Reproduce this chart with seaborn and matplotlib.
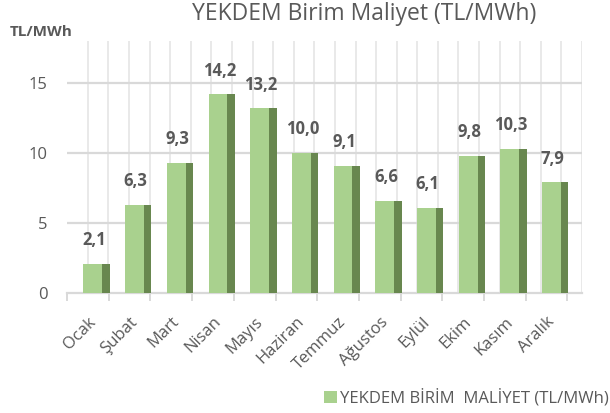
import matplotlib
matplotlib.use("Agg")
import matplotlib.pyplot as plt
import seaborn as sns
import numpy as np
import pandas as pd
from matplotlib.patches import Rectangle, Patch

months = ["Ocak", "Şubat", "Mart", "Nisan", "Mayıs", "Haziran", "Temmuz",
          "Ağustos", "Eylül", "Ekim", "Kasım", "Aralık"]
values = [2.1, 6.3, 9.3, 14.2, 13.2, 10.0, 9.1, 6.6, 6.1, 9.8, 10.3, 7.9]
yticks = [0, 5, 10, 15]
title = "YEKDEM Birim Maliyet (TL/MWh)"
ylabel = "TL/MWh"
legend_label = "YEKDEM BİRİM  MALİYET (TL/MWh)"

FRONT = "#a9d18e"
SIDE = "#68874f"
TXT = "#595959"

sns.set_theme(style="white")
plt.rcParams["font.family"] = ["Open Sans", "DejaVu Sans"]

df = pd.DataFrame({"month": months, "value": values})

fig = plt.figure(figsize=(6.1, 4.13), dpi=100)
ax = fig.add_axes([67 / 610, (413 - 293) / 413, (582 - 67) / 610, (293 - 41) / 413])

sns.barplot(data=df, x="month", y="value", color=FRONT, width=0.45,
            saturation=1, ax=ax, zorder=3)

# shift front faces and add darker side faces for the 3D look
for p in list(ax.patches):
    p.set_x(p.get_x() + 0.12)
    p.set_edgecolor("none")
    side = Rectangle((p.get_x() + p.get_width(), 0), 0.18, p.get_height(),
                     facecolor=SIDE, edgecolor="none", zorder=3)
    ax.add_patch(side)

for i, v in enumerate(values):
    ax.annotate(f"{v:.1f}".replace(".", ","), xy=(i + 0.15, v),
                xytext=(0, 17), textcoords="offset points",
                ha="center", va="center", fontsize=12, fontweight="bold",
                color=TXT, zorder=4)

ax.set_xlim(-0.5, 11.85)
ax.set_ylim(0, 18)

# gridlines
for y in yticks[1:]:
    ax.axhline(y, xmin=0, xmax=1, color="#d9d9d9", lw=1.6, zorder=1)
for x in np.linspace(0, 11.85, 25):
    ax.axvline(x, color="#e9e9e9", lw=1.4, zorder=0)

for s in ["top", "right", "left"]:
    ax.spines[s].set_visible(False)
ax.spines["bottom"].set_color("#d9d9d9")
ax.spines["bottom"].set_linewidth(1.6)

ax.set_yticks(yticks)
ax.set_yticklabels([str(t) for t in yticks], fontsize=12, color=TXT)
ax.tick_params(axis="y", length=0, pad=14)

ax.set_xticks(range(len(months)))
ax.set_xticklabels(months, rotation=45, ha="right", rotation_mode="anchor",
                   fontsize=12, color=TXT)
ax.tick_params(axis="x", which="major", length=0, pad=15)
ax.set_xticks(np.arange(-0.5, 12, 1), minor=True)
ax.tick_params(axis="x", which="minor", length=6, color="#d9d9d9", width=1.4,
               direction="out", bottom=True)
ax.set_xlabel("")
ax.set_ylabel("")

fig.text(364 / 610, 1 - 14 / 413, title, ha="center", va="center",
         fontsize=16.5, color=TXT)
fig.text(10 / 610, 1 - 32 / 413, ylabel, ha="left", va="center",
         fontsize=11, fontweight="bold", color=TXT)

handle = Patch(facecolor=FRONT, edgecolor="none")
fig.legend([handle], [legend_label], loc="center right",
           bbox_to_anchor=(609 / 610, 1 - 398 / 413), frameon=False,
           fontsize=12, handlelength=0.75, handleheight=0.75,
           handletextpad=0.2, labelcolor=TXT, borderaxespad=0, borderpad=0)

fig.savefig("out.png", dpi=100)
